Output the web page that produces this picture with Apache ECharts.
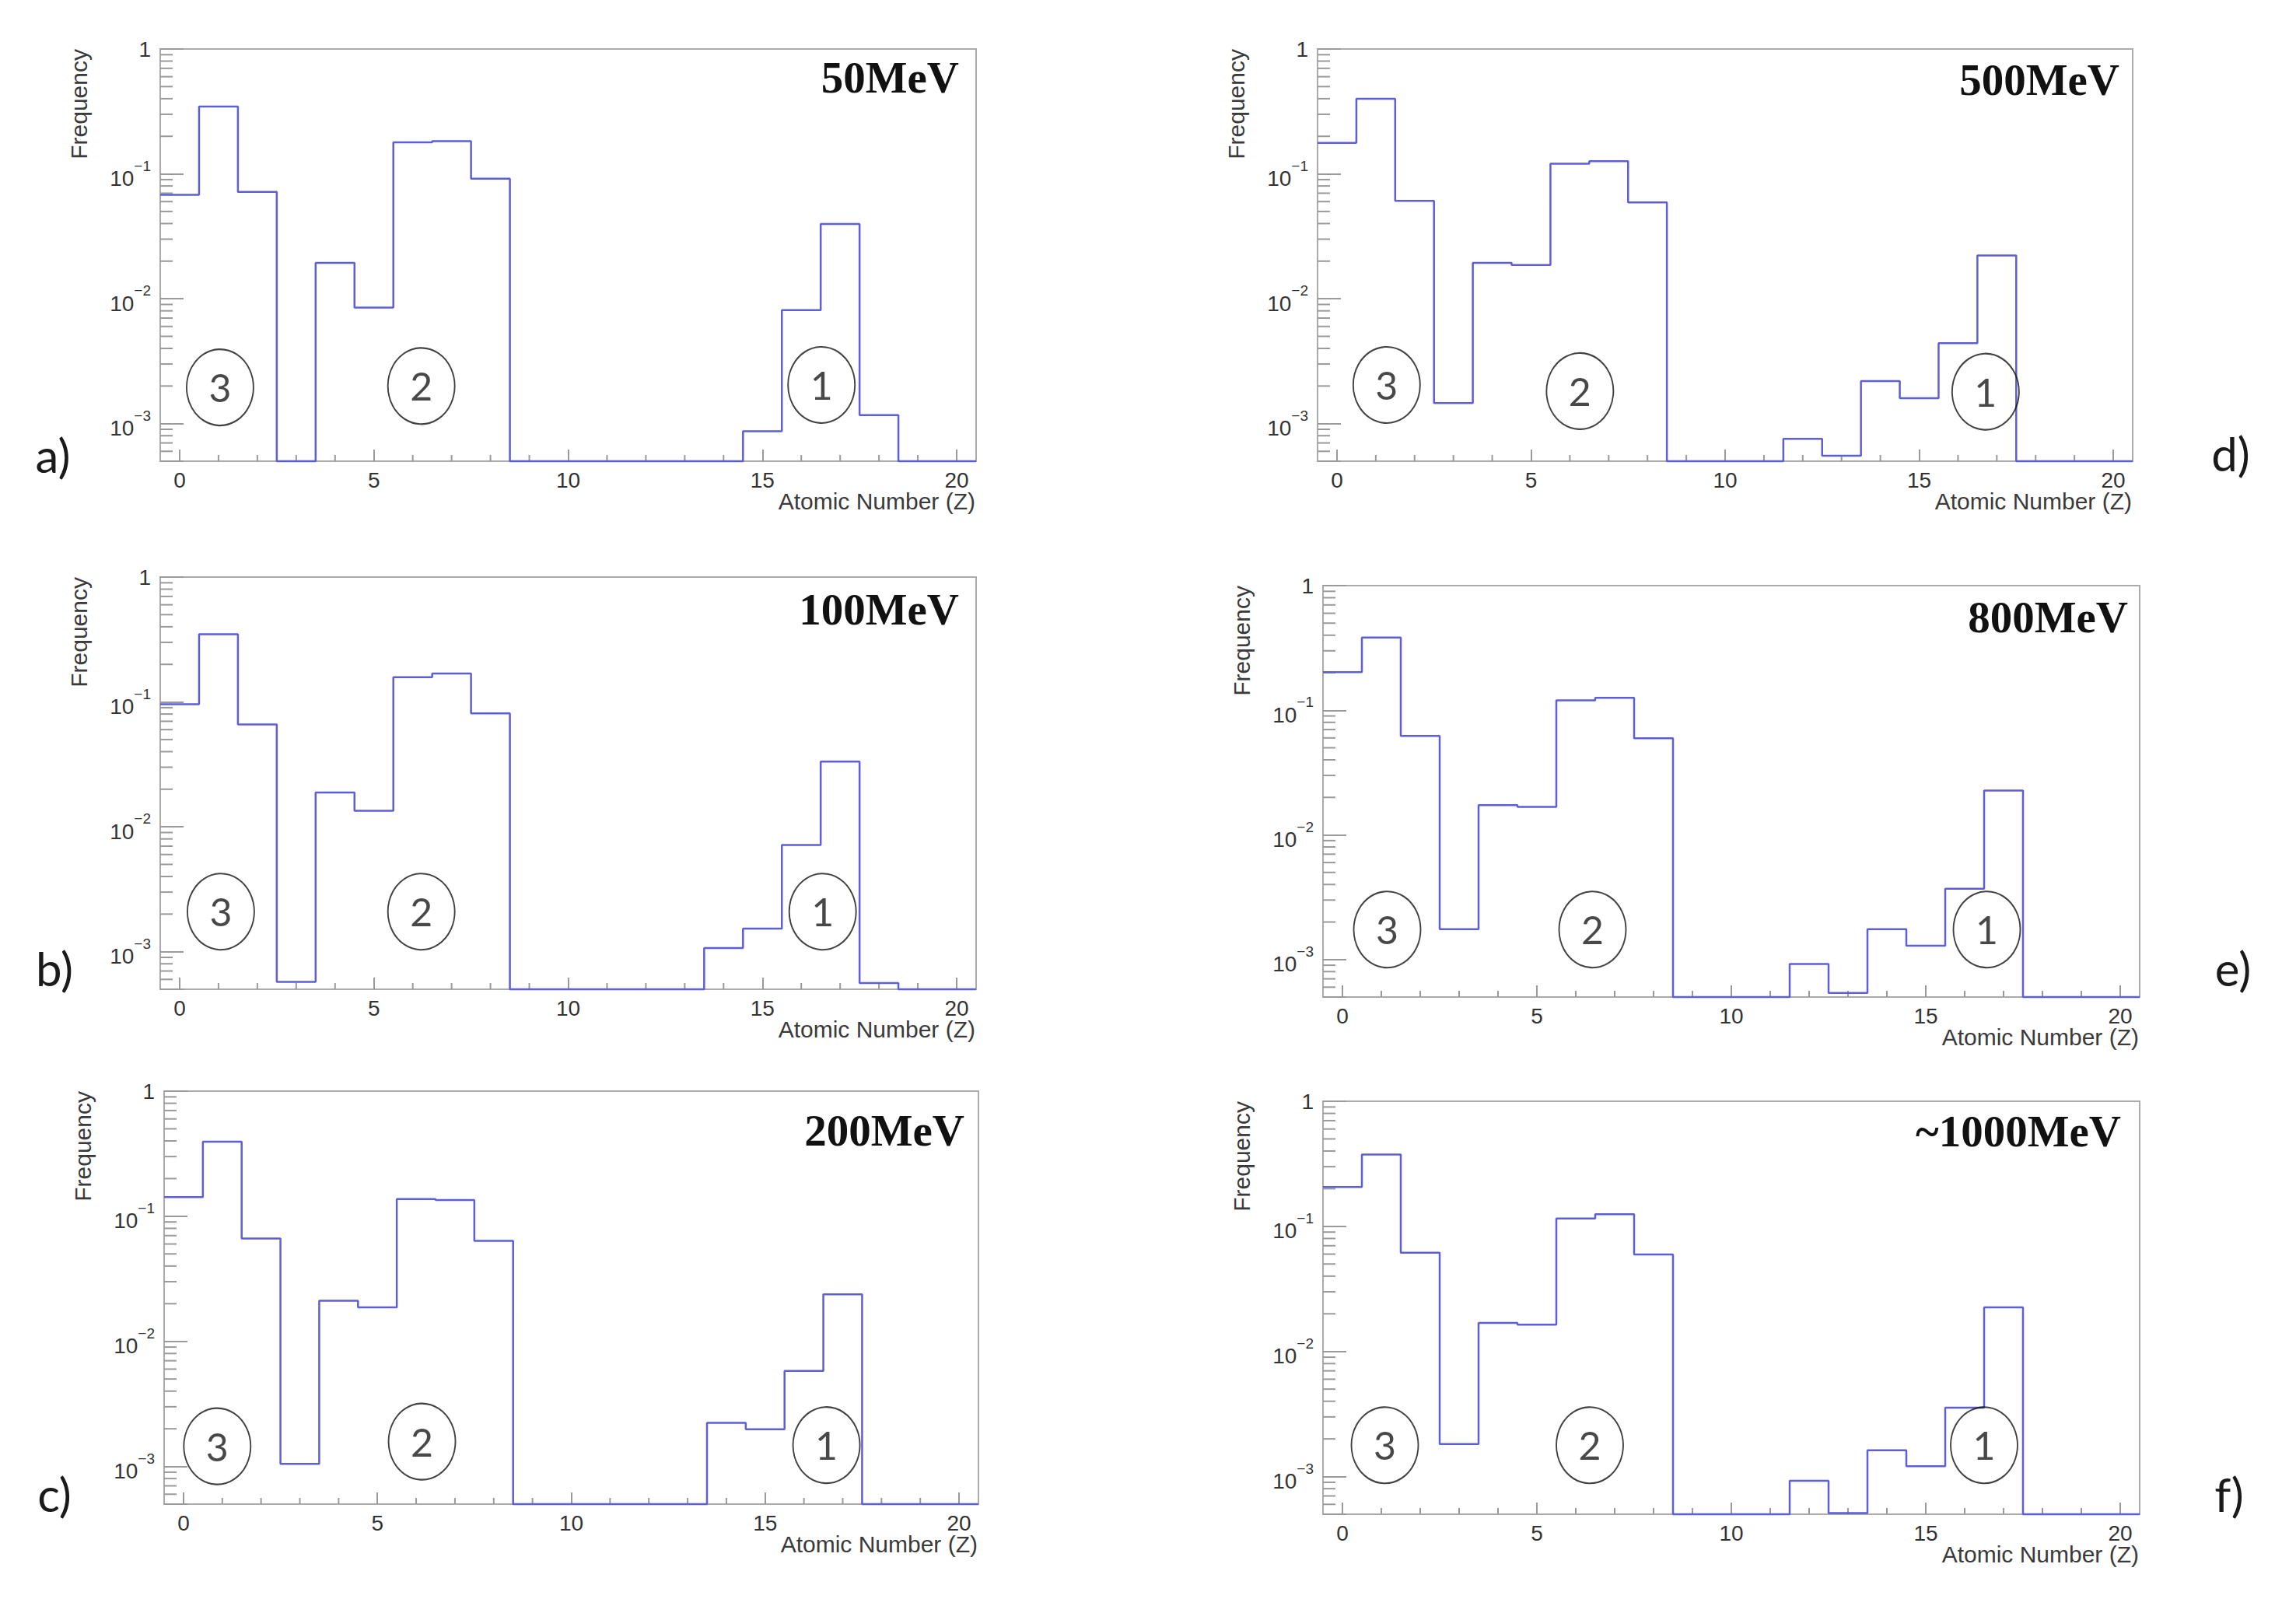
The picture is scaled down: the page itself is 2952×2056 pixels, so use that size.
<!DOCTYPE html>
<html>
<head>
<meta charset="utf-8">
<script src="https://cdn.jsdelivr.net/npm/echarts@6/dist/echarts.min.js"></script>
<style>
html,body{margin:0;padding:0;background:#ffffff;}
#chart{width:2952px;height:2056px;}
</style>
</head>
<body>
<div id="chart"></div>
<script>
// ---------------- DATA ----------------
const Z_VALUES = [0,1,2,3,4,5,6,7,8,9,10,11,12,13,14,15,16,17,18,19,20];
const ENERGY_LABELS = ['50MeV','100MeV','200MeV','500MeV','800MeV','~1000MeV'];
const PANEL_TAGS = ['a)','b)','c)','d)','e)','f)'];
const X_TICKS = [0,5,10,15,20];
const Y_TICK_VALUES = [0.001,0.01,0.1,1];
const X_TITLE = 'Atomic Number (Z)';
const Y_TITLE = 'Frequency';
const REGION_LABELS = ['3','2','1'];

// frequency per Z bin (0 = empty bin)
const FREQ_50MEV   = [0.068,0.346,0.0716,0,0.0194,0.0085,0.179,0.183,0.0916,0,0,0,0,0,0,0.00087,0.0081,0.0397,0.00117,0,0];
const FREQ_100MEV  = [0.096,0.349,0.066,0.000574,0.0188,0.01345,0.158,0.169,0.081,0,0,0,0,0,0.00107,0.00153,0.00716,0.0333,0.00056,0,0];
const FREQ_200MEV  = [0.142,0.395,0.0664,0.00105,0.0211,0.0187,0.137,0.135,0.0636,0,0,0,0,0,0.00223,0.00198,0.0058,0.0238,0,0,0];
const FREQ_500MEV  = [0.177,0.40,0.0608,0.00146,0.0194,0.0186,0.1205,0.1265,0.059,0,0,0,0.000755,0.000553,0.00219,0.0016,0.0044,0.0222,0,0,0];
const FREQ_800MEV  = [0.202,0.383,0.0622,0.00175,0.0173,0.0168,0.12,0.126,0.0597,0,0,0,0.00092,0.00054,0.00175,0.00129,0.0037,0.0227,0,0,0];
const FREQ_1000MEV = [0.206,0.375,0.0615,0.00182,0.0169,0.0164,0.1155,0.125,0.0596,0,0,0,0.000925,0.00051,0.00162,0.00121,0.00355,0.0225,0,0,0];
const PANEL_FREQS = [FREQ_50MEV,FREQ_100MEV,FREQ_200MEV,FREQ_500MEV,FREQ_800MEV,FREQ_1000MEV];

// ---------------- LAYOUT / STYLE ----------------
const X_MIN = -0.5, X_MAX = 20.5, Y_MIN = 5e-4, Y_MAX = 1;
const LAYOUT = [
  {left:206, top:63,   width:1049, height:530, titleRight:22, titleTop:8, tag:[68,585],
   ellipses:[[1.04,0.00195],[6.22,0.0020],[16.52,0.00204]]},
  {left:206, top:742,  width:1049, height:530, titleRight:22, titleTop:13, tag:[70,1245],
   ellipses:[[1.06,0.00209],[6.22,0.00209],[16.55,0.00209]]},
  {left:211, top:1403, width:1047, height:531, titleRight:18, titleTop:22, tag:[70,1921],
   ellipses:[[0.87,0.00145],[6.15,0.00158],[16.58,0.00148]]},
  {left:1694,top:63,   width:1048, height:530, titleRight:17, titleTop:11, tag:[2868,583],
   ellipses:[[1.28,0.00204],[6.26,0.00182],[16.71,0.0018]]},
  {left:1701,top:753,  width:1050, height:529, titleRight:15, titleTop:12, tag:[2871,1245],
   ellipses:[[1.15,0.00174],[6.43,0.00174],[16.57,0.00174]]},
  {left:1701,top:1416, width:1050, height:531, titleRight:24, titleTop:10, tag:[2866,1921],
   ellipses:[[1.09,0.00178],[6.36,0.00178],[16.5,0.00178]]}
];
const SANS = "'Liberation Sans', Arial, Helvetica, sans-serif";
const SERIF = "'Liberation Serif', 'Times New Roman', serif";
const HAND = "Lato, 'Noto Sans', sans-serif";
const LINE_COLOR = '#5e5ed6';
const FRAME_COLOR = '#ababab';
const TICK_COLOR = '#9a9a9a';
const TEXT_COLOR = '#333333';

// ---------------- BUILD ----------------
function histPoints(freqs){
  const pts = Z_VALUES.map((z,i)=>[z-0.5, Math.max(freqs[i], Y_MIN)]);
  const last = Z_VALUES.length-1;
  pts.push([Z_VALUES[last]+0.5, Math.max(freqs[last], Y_MIN)]);
  return pts;
}
const yMinor = [];
for (let k=-4;k<0;k++){ for (let m=2;m<=9;m++){ const v=m*Math.pow(10,k); if (v>Y_MIN*1.0001 && v<Y_MAX) yMinor.push(v); } }
const xMinor = Z_VALUES.filter(z=>X_TICKS.indexOf(z)<0);

function yLabel(v){
  const l = Math.log10(v);
  const r = Math.round(l);
  if (Math.abs(l-r)>1e-6) return '';
  if (r===0) return '{one|1}';
  return '{b|10}{s|\u2212' + (-r) + '}';
}

const grids=[], xAxes=[], yAxes=[], series=[], graphics=[];
LAYOUT.forEach((L,i)=>{
  grids.push({left:L.left, top:L.top, width:L.width, height:L.height, show:true,
    borderColor:FRAME_COLOR, borderWidth:2, backgroundColor:'rgba(0,0,0,0)', containLabel:false, outerBoundsMode:'none'});
  xAxes.push({type:'value', gridIndex:i, min:X_MIN, max:X_MAX, position:'bottom',
    axisLine:{show:false, onZero:false}, splitLine:{show:false},
    axisTick:{show:true, inside:true, length:15, customValues:X_TICKS, lineStyle:{color:TICK_COLOR, width:2}},
    axisLabel:{show:true, customValues:X_TICKS, margin:10, fontSize:28, fontFamily:SANS, color:TEXT_COLOR}});
  yAxes.push({type:'log', logBase:10, gridIndex:i, min:Y_MIN, max:Y_MAX, position:'left',
    axisLine:{show:false, onZero:false}, splitLine:{show:false}, minorTick:{show:false},
    axisTick:{show:true, inside:true, length:30, lineStyle:{color:TICK_COLOR, width:2}},
    axisLabel:{show:true, margin:12, formatter:yLabel, color:TEXT_COLOR,
      rich:{
        one:{fontSize:28, fontFamily:SANS, color:TEXT_COLOR, lineHeight:30},
        b:{fontSize:28, fontFamily:SANS, color:TEXT_COLOR, lineHeight:40, verticalAlign:'bottom'},
        s:{fontSize:19, fontFamily:SANS, color:TEXT_COLOR, lineHeight:30, verticalAlign:'top'}
      }}});
  // histogram outline
  series.push({type:'line', xAxisIndex:i, yAxisIndex:i, step:'end', data:histPoints(PANEL_FREQS[i]),
    symbol:'none', clip:false, silent:true, animation:false, z:3,
    lineStyle:{color:LINE_COLOR, width:2.5}});
  // minor ticks (ROOT style log minor ticks 2..9)
  series.push({type:'custom', xAxisIndex:i, yAxisIndex:i, silent:true, animation:false, z:1,
    data:yMinor.map(v=>[X_MIN, v]),
    renderItem:(p,api)=>{ const c=api.coord([X_MIN, api.value(1)]);
      return {type:'line', shape:{x1:c[0], y1:c[1], x2:c[0]+16, y2:c[1]}, style:{stroke:TICK_COLOR, lineWidth:2}}; }});
  series.push({type:'custom', xAxisIndex:i, yAxisIndex:i, silent:true, animation:false, z:1,
    data:xMinor.map(z=>[z, Y_MIN]),
    renderItem:(p,api)=>{ const c=api.coord([api.value(0), Y_MIN]);
      return {type:'line', shape:{x1:c[0], y1:c[1], x2:c[0], y2:c[1]-8}, style:{stroke:TICK_COLOR, lineWidth:2}}; }});
  // circled region annotations
  series.push({type:'scatter', xAxisIndex:i, yAxisIndex:i, silent:true, animation:false, z:4,
    symbol:'circle', symbolSize:[86,98],
    itemStyle:{color:'rgba(255,255,255,0)', borderColor:'#111111', borderWidth:2},
    label:{show:true, position:'inside', formatter:'{b}', fontFamily:HAND, fontSize:50, color:'#1a1a1a'},
    data:L.ellipses.map((e,k)=>({name:REGION_LABELS[k], value:e}))});
  // texts
  graphics.push({type:'text', x:L.left+L.width-L.titleRight, y:L.top+L.titleTop, silent:true,
    style:{text:ENERGY_LABELS[i], fontFamily:SERIF, fontWeight:'bold', fontSize:57, fill:'#111111', align:'right', verticalAlign:'top'}});
  graphics.push({type:'text', x:L.left-105, y:L.top, rotation:Math.PI/2, silent:true,
    style:{text:Y_TITLE, fontFamily:SANS, fontSize:30, fill:'#3a3a3a', align:'right', verticalAlign:'middle'}});
  graphics.push({type:'text', x:L.left+L.width-1, y:L.top+L.height+51, silent:true,
    style:{text:X_TITLE, fontFamily:SANS, fontSize:30, fill:'#3a3a3a', align:'right', verticalAlign:'middle'}});
  graphics.push({type:'text', x:L.tag[0], y:L.tag[1], silent:true,
    style:{text:PANEL_TAGS[i], fontFamily:HAND, fontSize:60, fill:'#1a1a1a', align:'center', verticalAlign:'middle'}});
});

const chart = echarts.init(document.getElementById('chart'), null, {renderer:'svg', width:2952, height:2056});
chart.setOption({
  animation:false,
  backgroundColor:'#ffffff',
  grid:grids, xAxis:xAxes, yAxis:yAxes, series:series, graphic:graphics
});
</script>
</body>
</html>
